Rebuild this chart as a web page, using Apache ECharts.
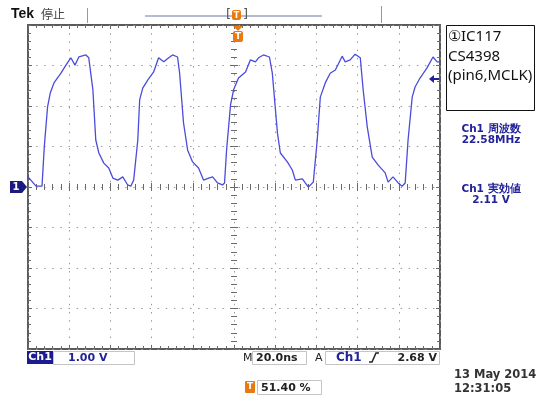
<!DOCTYPE html>
<html><head><meta charset="utf-8">
<script src="https://cdn.jsdelivr.net/npm/echarts@6/dist/echarts.min.js"></script>
<style>html,body{margin:0;padding:0;background:#fff}#c{width:541px;height:401px}</style>
</head><body><div id="c"></div>
<script>
// time in ns (20 ns/div), voltage in V (1 V/div)
var timeNs = [-100,-96.1,-93.2,-92.1,-90.5,-89.2,-87.4,-84.0,-81.6,-79.2,
 -77.2,-75.3,-71.9,-70.5,-68.5,-67.1,-65.6,-63.2,-60.8,-58.8,
 -56.4,-54.0,-51.6,-50.1,-48.7,-46.7,-45.8,-44.3,-41.9,-39.0,
 -36.6,-34.1,-31.7,-29.8,-27.4,-26.4,-24.5,-22.5,-20.1,-17.2,
 -14.8,-12.3,-10.4,-8.0,-5.6,-4.6,-3.6,-1.7,-0.2,2.2,
 5.6,8.0,10.4,11.9,14.3,17.2,18.6,21.1,22.5,25.9,
 28.3,29.8,33.2,34.6,36.1,38.5,40.4,41.9,44.3,46.7,
 49.2,52.5,54.0,56.4,58.8,61.3,62.7,64.7,67.1,70.0,
 73.4,74.8,77.2,79.7,81.6,83.1,84.5,86.5,87.9,90.3,
 93.7,96.6,98.6,100];
var ch1Volts = [0.25,0.02,0.02,0.99,1.98,2.32,2.57,2.81,3.01,3.19,
 3.01,3.21,3.26,3.19,2.40,1.16,0.84,0.59,0.47,0.22,
 0.17,0.25,0.05,0.02,0.17,1.16,2.15,2.44,2.64,2.84,
 3.19,3.09,3.19,3.26,3.21,2.81,1.58,0.91,0.62,0.47,
 0.17,0.22,0.25,0.10,0.05,0.10,0.91,2.02,2.40,2.69,
 2.84,3.14,3.09,3.19,3.26,3.21,2.81,1.33,0.84,0.62,
 0.42,0.17,0.20,0.10,0.00,0.12,1.16,2.22,2.57,2.81,
 2.89,3.23,3.09,3.14,3.28,3.19,2.40,1.48,0.74,0.54,
 0.35,0.12,0.25,0.10,0.02,0.10,1.16,2.22,2.47,2.69,
 2.94,3.21,3.09,3.09];
var xRange = [-100, 100], xStep = 20;
var yRange = [-4, 4], yStep = 1;
var headerTitle = 'Tek', headerState = '停止';
var noteLines = ['①IC117', 'CS4398', '(pin6,MCLK)'];
var measLines = [['Ch1 周波数', '22.58MHz'], ['Ch1 実効値', '2.11 V']];
var chScale = '1.00 V', timeScale = '20.0ns', trigLevel = '2.68 V', trigPos = '51.40 %';
var dateLines = ['13 May 2014', '12:31:05'];

var tickCol = '#6a6a6a', dotCol = '#9a9a9a', blue = '#22229a';
function xAx(extra) {
  return Object.assign({type:'value', min:xRange[0], max:xRange[1], interval:xStep,
    axisLabel:{show:false}, splitLine:{show:false}}, extra);
}
function yAx(extra) {
  return Object.assign({type:'value', min:yRange[0], max:yRange[1], interval:yStep,
    axisLabel:{show:false}, splitLine:{show:false}}, extra);
}
var edgeTick = {show:true, inside:true, length:4, lineStyle:{color:tickCol, width:1}};
var minorEdge = {show:true, splitNumber:5, length:3, lineStyle:{color:tickCol, width:1}};
var xAxes = [
  xAx({position:'bottom', axisLine:{show:false, onZero:false}, axisTick:edgeTick, minorTick:minorEdge,
       splitLine:{show:true, lineStyle:{color:dotCol, width:1, type:[1.5,6.7]}}}),
  xAx({position:'top', axisLine:{show:false, onZero:false}, axisTick:edgeTick, minorTick:minorEdge}),
  xAx({position:'bottom', axisLine:{show:true, onZero:true, onZeroAxisIndex:0, lineStyle:{opacity:0}},
       axisTick:{show:true, inside:true, length:4, lineStyle:{color:tickCol}}, minorTick:minorEdge}),
  xAx({position:'bottom', axisLine:{show:true, onZero:true, onZeroAxisIndex:0, lineStyle:{opacity:0}},
       axisTick:{show:true, inside:false, length:4, lineStyle:{color:tickCol}}, minorTick:minorEdge})
];
var yAxes = [
  yAx({position:'left', axisLine:{show:false, onZero:false}, axisTick:edgeTick, minorTick:minorEdge,
       splitLine:{show:true, lineStyle:{color:dotCol, width:1, type:[1.5,6.6]}}}),
  yAx({position:'right', axisLine:{show:false, onZero:false}, axisTick:edgeTick, minorTick:minorEdge}),
  yAx({position:'left', axisLine:{show:true, onZero:true, onZeroAxisIndex:0, lineStyle:{opacity:0}},
       axisTick:{show:true, inside:true, length:4, lineStyle:{color:tickCol}}, minorTick:minorEdge}),
  yAx({position:'left', axisLine:{show:true, onZero:true, onZeroAxisIndex:0, lineStyle:{opacity:0}},
       axisTick:{show:true, inside:false, length:4, lineStyle:{color:tickCol}}, minorTick:minorEdge})
];
var series = [{type:'line', xAxisIndex:0, yAxisIndex:0, showSymbol:false, symbol:'none',
  data: timeNs.map(function(t,i){return [t, ch1Volts[i]];}),
  lineStyle:{color:'#4b4bdc', width:1.3}, z:5}];

var uiFont = '"DejaVu Sans", sans-serif';
function txt(x,y,s,o){return {type:'text', x:x, y:y, z:20, style:Object.assign({text:s, fill:'#222',
  font:'bold 11px '+uiFont, textVerticalAlign:'middle', textAlign:'left'}, o||{})};}
var g = [];
// header
g.push(txt(11,14,headerTitle,{font:'bold 14px "Liberation Sans", sans-serif', fill:'#111'}));
g.push(txt(41,14,headerState,{font:'12px "Noto Sans CJK JP"', fill:'#444'}));
g.push({type:'line', shape:{x1:87.5,y1:8,x2:87.5,y2:23}, style:{stroke:'#999', lineWidth:1}});
g.push({type:'line', shape:{x1:145,y1:16,x2:322,y2:16}, style:{stroke:'#b4bbd2', lineWidth:2}});
g.push({type:'line', shape:{x1:381.5,y1:6,x2:381.5,y2:23}, style:{stroke:'#999', lineWidth:1}});
g.push(txt(226,15,'[',{font:'13px '+uiFont, fill:'#555'}));
g.push(txt(243,15,']',{font:'13px '+uiFont, fill:'#555'}));
g.push({type:'rect', shape:{x:232,y:10,width:9,height:10,r:2}, style:{fill:'#e87a10'}, z:20});
g.push(txt(236.5,15.5,'T',{font:'bold 8px '+uiFont, fill:'#fff', textAlign:'center'}));
// trigger position marker
g.push({type:'polygon', shape:{points:[[233,26],[243,26],[238,31]]}, style:{fill:'#e87a10'}, z:20});
g.push({type:'rect', shape:{x:233,y:31,width:10,height:11,r:2}, style:{fill:'#e87a10'}, z:20});
g.push(txt(238,36.5,'T',{font:'bold 9px '+uiFont, fill:'#fff', textAlign:'center'}));
// ground marker
g.push({type:'polygon', shape:{points:[[10,181],[22,181],[27,187],[22,193],[10,193]]}, style:{fill:'#1a1a80'}, z:20});
g.push(txt(16,187,'1',{font:'bold 10px '+uiFont, fill:'#fff', textAlign:'center'}));
// trigger level arrow
g.push({type:'polygon', shape:{points:[[429,79],[434,75],[434,83]]}, style:{fill:'#2020a0'}, z:20});
g.push({type:'line', shape:{x1:433,y1:79,x2:439,y2:79}, style:{stroke:'#2020a0', lineWidth:2}, z:20});
// note box
g.push({type:'rect', shape:{x:446.5,y:25.5,width:88,height:85}, style:{fill:'#fff', stroke:'#111', lineWidth:1}, z:15});
noteLines.forEach(function(s,i){ g.push(txt(448,37+i*19.5,s,{font:'15px "Noto Sans", sans-serif', fill:'#111'})); });
// measurements
measLines.forEach(function(m,i){
  var y0 = i===0 ? 129 : 189;
  g.push(txt(491,y0,m[0],{font:'bold 10.5px '+uiFont, fill:blue, textAlign:'center'}));
  g.push(txt(491,y0+11.5,m[1],{font:'bold 10.5px '+uiFont, fill:blue, textAlign:'center'}));
});
// bottom row 1
g.push({type:'rect', shape:{x:27,y:351,width:26,height:13}, style:{fill:'#1c1c8e'}, z:15});
g.push(txt(40,357.5,'Ch1',{fill:'#fff', textAlign:'center'}));
g.push({type:'rect', shape:{x:53.5,y:351.5,width:81,height:13}, style:{fill:'none', stroke:'#c4c4c4'}, z:15});
g.push(txt(68,358,chScale,{fill:blue}));
g.push(txt(243,358,'M',{fill:'#222', font:'11px '+uiFont}));
g.push({type:'rect', shape:{x:252.5,y:351.5,width:54,height:13}, style:{fill:'none', stroke:'#c4c4c4'}, z:15});
g.push(txt(256,358,timeScale,{fill:'#222'}));
g.push(txt(315,358,'A',{fill:'#222', font:'11px '+uiFont}));
g.push({type:'rect', shape:{x:325.5,y:351.5,width:114,height:13}, style:{fill:'none', stroke:'#c4c4c4'}, z:15});
g.push(txt(336,358,'Ch1',{fill:blue, font:'bold 12px '+uiFont}));
g.push({type:'polyline', shape:{points:[[369,362],[372,362],[376,353],[379,353]]}, style:{stroke:'#222', lineWidth:1.5}, z:20});
g.push(txt(437,358,trigLevel,{fill:'#222', textAlign:'right'}));
// bottom row 2
g.push({type:'rect', shape:{x:245,y:381,width:10,height:12,r:1}, style:{fill:'#e87a10'}, z:20});
g.push(txt(250,387,'T',{font:'bold 9px '+uiFont, fill:'#fff', textAlign:'center'}));
g.push({type:'rect', shape:{x:257.5,y:380.5,width:64,height:14}, style:{fill:'none', stroke:'#c4c4c4'}, z:15});
g.push(txt(261,388,trigPos,{fill:'#222'}));
g.push(txt(454,375,dateLines[0],{fill:'#333', font:'bold 11.5px '+uiFont}));
g.push(txt(454,389,dateLines[1],{fill:'#333', font:'bold 11.5px '+uiFont}));

var chart = echarts.init(document.getElementById('c'), null, {renderer:'canvas'});
chart.setOption({
  animation:false,
  backgroundColor:'#fff',
  grid:{left:28, top:25, width:412, height:324, show:true, borderColor:'#5a5a5a', borderWidth:2, backgroundColor:'#fff'},
  xAxis:xAxes, yAxis:yAxes, series:series, graphic:g
});
</script></body></html>
